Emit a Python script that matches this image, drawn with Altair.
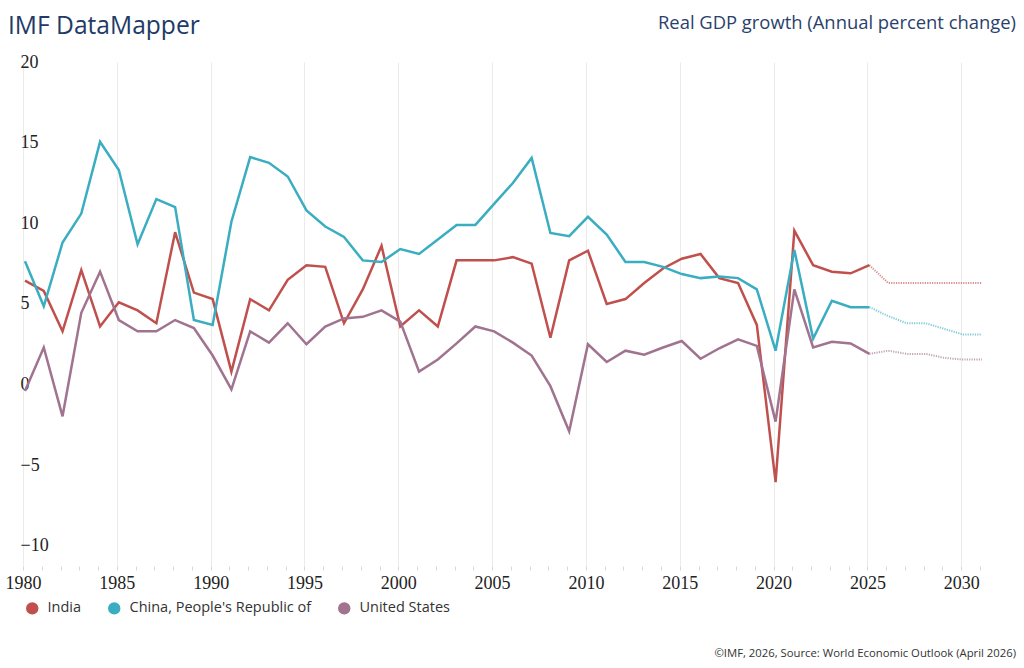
import altair as alt
import pandas as pd

years = list(range(1980, 2032))

india = [6.45, 5.8, 3.3, 7.1, 3.6, 5.1, 4.6, 3.8, 9.45, 5.7,
         5.3, 0.8, 5.3, 4.6, 6.5, 7.4, 7.3, 3.8, 5.9, 8.6,
         3.6, 4.6, 3.6, 7.7, 7.7, 7.7, 7.9, 7.5, 2.9, 7.7,
         8.3, 5.0, 5.3, 6.3, 7.2, 7.8, 8.1, 6.6, 6.3, 3.7,
         -6.05, 9.55, 7.4, 7.0, 6.9, 7.4, 6.3, 6.3, 6.3, 6.3,
         6.3, 6.3]

china = [7.65, 4.85, 8.8, 10.6, 15.05, 13.3, 8.7, 11.5, 11.0, 4.0,
         3.7, 10.1, 14.1, 13.75, 12.9, 10.8, 9.8, 9.15, 7.7, 7.6,
         8.4, 8.1, 9.0, 9.9, 9.9, 11.2, 12.5, 14.05, 9.4, 9.2,
         10.4, 9.3, 7.6, 7.6, 7.3, 6.85, 6.6, 6.7, 6.6, 5.9,
         2.1, 8.35, 2.85, 5.2, 4.8, 4.8, 4.25, 3.8, 3.8, 3.45,
         3.1, 3.1]

usa = [-0.4, 2.3, -1.97, 4.45, 7.0, 4.0, 3.3, 3.3, 4.0, 3.5,
       1.8, -0.3, 3.3, 2.6, 3.8, 2.5, 3.6, 4.1, 4.2, 4.6,
       3.9, 0.8, 1.55, 2.55, 3.6, 3.3, 2.6, 1.8, -0.1, -2.9,
       2.5, 1.4, 2.1, 1.85, 2.3, 2.7, 1.6, 2.25, 2.8, 2.4,
       -2.3, 5.9, 2.3, 2.65, 2.55, 1.9, 2.1, 1.9, 1.9, 1.65,
       1.55, 1.55]

countries = ["India", "China, People's Republic of", "United States"]
colors = ["#c0504d", "#3badc1", "#a0738f"]
last_actual = 2025

rows = []
for name, series in zip(countries, [india, china, usa]):
    for y, v in zip(years, series):
        rows.append({"year": y, "value": v, "country": name})
df = pd.DataFrame(rows)

x_enc = alt.X(
    "year:Q",
    scale=alt.Scale(domain=[1980, 2031], nice=False, zero=False),
    axis=alt.Axis(
        title=None,
        values=years,
        format="d",
        labelExpr="datum.value % 5 === 0 ? datum.label : ''",
        grid=True,
        gridColor="#ebebeb",
        gridWidth=1,
        gridOpacity={"condition": {"test": "datum.value % 5 === 0", "value": 1}, "value": 0},
        domain=False,
        ticks=True,
        tickSize=4,
        tickColor="#d6d6dc",
        tickOffset=-2,
        labelPadding=4,
        labelFont="Liberation Serif",
        labelFontSize=18,
        labelColor="#222222",
        labelFlush=False,
        labelOverlap=False,
    ),
)

y_enc = alt.Y(
    "value:Q",
    scale=alt.Scale(domain=[-11.25, 20], nice=False, zero=False),
    axis=alt.Axis(
        title=None,
        values=[-10, -5, 0, 5, 10, 15, 20],
        grid=False,
        domain=False,
        ticks=False,
        labelAlign="left",
        labelBaseline="middle",
        labelPadding=5,
        labelFont="Liberation Serif",
        labelFontSize=18,
        labelColor="#222222",
    ),
)

color_scale = alt.Scale(domain=countries, range=colors)

legend = alt.Legend(
    title=None,
    orient="none",
    direction="horizontal",
    legendX=0,
    legendY=539,
    symbolType="circle",
    symbolSize=154,
    symbolOpacity=1,
    symbolStrokeWidth=0,
    labelFont="Open Sans",
    labelFontSize=14.5,
    labelColor="#333333",
    labelOffset=8,
    labelLimit=400,
    columnPadding=25,
    padding=0,
)

color_enc = alt.Color("country:N", scale=color_scale, sort=countries, legend=legend)

base = alt.Chart(df)

# legend-only layer (filtered to no rows): supplies filled circle symbols
legend_layer = base.transform_filter("false").mark_circle(size=154, opacity=1).encode(
    x=x_enc, y=y_enc, color=color_enc
)

actual = base.transform_filter(f"datum.year <= {last_actual}").mark_line(
    strokeWidth=2.5, strokeJoin="miter", interpolate="linear"
).encode(x=x_enc, y=y_enc, color=color_enc)

proj = base.transform_filter(f"datum.year >= {last_actual}").mark_line(
    strokeWidth=2, strokeDash=[1.2, 1.2], opacity=0.65
).encode(x=x_enc, y=y_enc, color=color_enc)

titles = pd.DataFrame({"t": ["IMF DataMapper"]})
title_left = alt.Chart(titles).mark_text(
    font="Open Sans", fontSize=24.6, color="#213a66", align="left", baseline="alphabetic"
).encode(text="t:N", x=alt.value(-17), y=alt.value(-28.5))

rt = pd.DataFrame({"t": ["Real GDP growth (Annual percent change)"]})
title_right = alt.Chart(rt).mark_text(
    font="Open Sans", fontSize=18.4, color="#2a3f6b", align="right", baseline="alphabetic"
).encode(text="t:N", x=alt.value(991), y=alt.value(-33))

ft = pd.DataFrame({"t": ["©IMF, 2026, Source: World Economic Outlook (April 2026)"]})
footer = alt.Chart(ft).mark_text(
    font="Open Sans", fontSize=11.3, color="#333333", align="right", baseline="alphabetic"
).encode(text="t:N", x=alt.value(991), y=alt.value(595))

chart = alt.layer(legend_layer, actual, proj, title_left, title_right, footer).properties(
    width=957,
    height=504,
    background="white",
    autosize=alt.AutoSizeParams(type="none"),
    padding={"left": 25, "top": 62, "right": 42, "bottom": 102},
).configure_view(stroke=None)

chart.save("out.html", embed_options={"renderer": "svg", "actions": False})
